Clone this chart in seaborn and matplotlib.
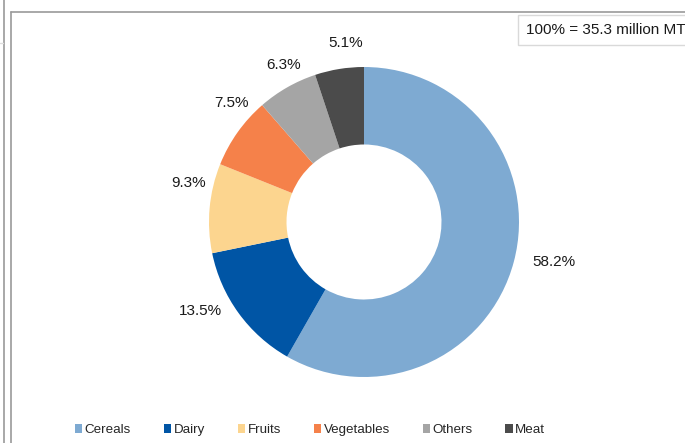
import matplotlib
matplotlib.use("Agg")
import numpy as np
import matplotlib.pyplot as plt
import seaborn as sns
from matplotlib.patches import Patch
from matplotlib.lines import Line2D

sns.set_theme(style="white")
plt.rcParams['font.family'] = ['Liberation Sans', 'DejaVu Sans']

categories = ["Cereals", "Dairy", "Fruits", "Vegetables", "Others", "Meat"]
shares = [58.2, 13.5, 9.3, 7.5, 6.3, 5.1]
colors = ["#7EAAD2", "#0055A5", "#FCD58F", "#F5814A", "#A5A5A5", "#4B4B4B"]
note = "100% = 35.3 million MT"

# label placement tweaks (layout only): angular shift in degrees and radial distance
label_shift = [2.8, -7.4, -7.5, -6.5, -2.5, -3.2]
label_dist = [1.25, 1.20, 1.16, 1.15, 1.14, 1.16]

W, H = 685, 443
fig = plt.figure(figsize=(W / 100, H / 100), dpi=100)
fig.patch.set_facecolor("white")

# frames
fig.add_artist(Line2D([4 / W, 4 / W], [0, 1], color="#9A9A9A", lw=1.2, transform=fig.transFigure))
fig.add_artist(Line2D([0, 3 / W], [1 - 43 / H, 1 - 43 / H], color="#DDDDDD", lw=1, transform=fig.transFigure))
fig.add_artist(Line2D([10.5 / W, 10.5 / W], [0, 1 - 12 / H], color="#9A9A9A", lw=1.2, transform=fig.transFigure))
fig.add_artist(Line2D([10.5 / W, 1], [1 - 12 / H, 1 - 12 / H], color="#9A9A9A", lw=1.2, transform=fig.transFigure))

ax = fig.add_axes([0, 0, 1, 1])
ax.set_axis_off()
cx, cy, r = 364, 443 - 222, 155

wedges, _ = ax.pie(
    shares, colors=colors, startangle=90, counterclock=False,
    radius=1.0, wedgeprops=dict(width=0.5, linewidth=0),
)
ax.set_xlim(-cx / r, (W - cx) / r)
ax.set_ylim(-cy / r, (H - cy) / r)
ax.set_aspect("auto")

for w, s, sh, d in zip(wedges, shares, label_shift, label_dist):
    ang = np.deg2rad((w.theta1 + w.theta2) / 2 + sh)
    ax.text(d * np.cos(ang), d * np.sin(ang), f"{s:.1f}%", ha="center", va="center",
            fontsize=11, color="#1A1A1A")

# note box
fig.text(526 / W, 1 - 30 / H, note, fontsize=11, color="#1A1A1A", va="center", ha="left",
         bbox=dict(boxstyle="square,pad=0.5", facecolor="white", edgecolor="#D9D9D9", lw=1))

handles = [Patch(facecolor=c, edgecolor="none") for c in colors]
fig.legend(handles, categories, loc="center", bbox_to_anchor=(310 / W, 1 - 430 / H),
           ncol=6, frameon=False, fontsize=9.6, handlelength=0.55, handleheight=0.6,
           handletextpad=0.2, columnspacing=2.45, borderaxespad=0)

fig.savefig("out.png", dpi=100, facecolor="white")
